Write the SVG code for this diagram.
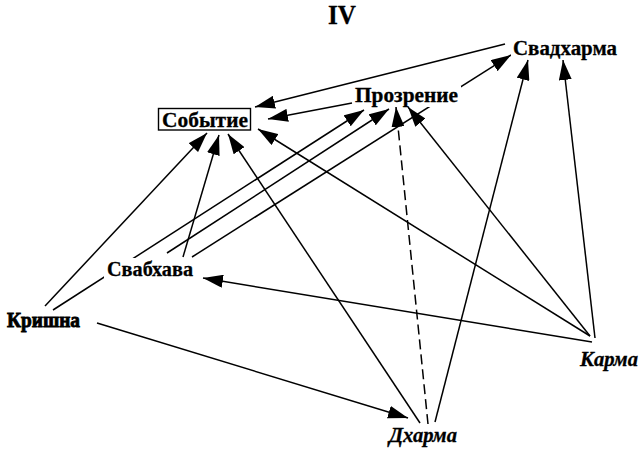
<svg xmlns="http://www.w3.org/2000/svg" width="640" height="450" viewBox="0 0 640 450">
<style>
.e{fill:none;stroke:#000;stroke-width:1.5;marker-end:url(#ah)}
.d{stroke-dasharray:10 5}
.t{font-family:"Liberation Serif","Times New Roman",serif;font-weight:bold;font-size:21px;fill:#000;stroke:#000;stroke-width:0.3}
.i{font-style:italic}
.bg{fill:#fff}
</style>
<defs>
<marker id="ah" viewBox="0 0 20 13" refX="20" refY="6.5" markerWidth="20" markerHeight="13" markerUnits="userSpaceOnUse" orient="auto">
<path d="M0,0 L20,6.5 L0,13 z" fill="#000"/>
</marker>
</defs>
<rect width="640" height="450" fill="#fff"/>
<text class="t" x="328" y="24" style="font-size:27px" textLength="28" lengthAdjust="spacingAndGlyphs">IV</text>
<g id="connectors">
<line class="e" x1="505" y1="44" x2="255" y2="107"/>
<line class="e" x1="352" y1="103" x2="268" y2="119"/>
<line class="e" x1="45" y1="306" x2="207" y2="133"/>
<line class="e" x1="183" y1="257" x2="219" y2="135"/>
<line class="e" x1="420" y1="423" x2="228" y2="134"/>
<line class="e" x1="590" y1="336" x2="258" y2="129"/>
<line class="e" x1="53" y1="310" x2="364" y2="110"/>
<line class="e" x1="167" y1="253" x2="389" y2="109"/>
<line class="e d" x1="428" y1="424" x2="396" y2="107"/>
<line class="e" x1="590" y1="336" x2="408" y2="107"/>
<line class="e" x1="192" y1="257" x2="511" y2="55"/>
<line class="e" x1="435" y1="422" x2="528" y2="60"/>
<line class="e" x1="595" y1="338" x2="563" y2="60"/>
<line class="e" x1="592" y1="342" x2="203" y2="278"/>
<line class="e" x1="97" y1="323" x2="408" y2="418"/>
</g>
<g id="sobytie">
<rect x="158.5" y="108.5" width="92" height="21.5" fill="#fff" stroke="#000" stroke-width="1.4"/>
<text class="t" x="162" y="127" style="font-size:22px" textLength="86" lengthAdjust="spacingAndGlyphs">Событие</text>
</g>
<g id="prozrenie">
<rect class="bg" x="353" y="86" width="108" height="21"/>
<text class="t" x="355" y="102" textLength="103" lengthAdjust="spacingAndGlyphs">Прозрение</text>
</g>
<g id="svadharma">
<rect class="bg" x="511" y="39" width="108" height="20"/>
<text class="t" x="513" y="55" textLength="104" lengthAdjust="spacingAndGlyphs">Свадхарма</text>
</g>
<g id="svabhava">
<rect class="bg" x="104" y="258" width="92" height="22"/>
<text class="t" x="107" y="276" textLength="86" lengthAdjust="spacingAndGlyphs">Свабхава</text>
</g>
<g id="krishna">
<text class="t" x="7" y="327" style="stroke-width:0.9" textLength="73" lengthAdjust="spacingAndGlyphs">Кришна</text>
</g>
<g id="karma">
<text class="t i" x="580" y="366" textLength="58" lengthAdjust="spacingAndGlyphs">Карма</text>
</g>
<g id="dharma">
<text class="t i" x="389" y="442" textLength="68" lengthAdjust="spacingAndGlyphs">Дхарма</text>
</g>
</svg>
